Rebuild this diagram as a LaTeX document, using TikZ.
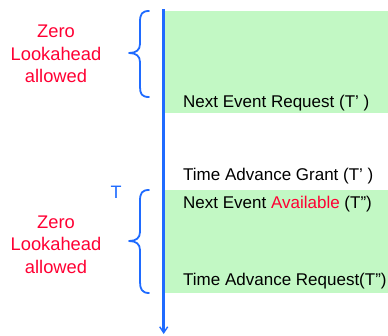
\documentclass[tikz,border=0pt]{standalone}
\usepackage{fontspec}
\setmainfont{Liberation Sans}
\usetikzlibrary{arrows.meta}
\definecolor{tlblue}{HTML}{1F6BFF}
\definecolor{zgreen}{HTML}{C2F8C4}
\definecolor{zred}{HTML}{FF0033}
\tikzset{
  lbl/.style={anchor=base west, inner sep=0pt, font=\fontsize{17}{20}\selectfont},
  zla/.style={align=center, text=zred, inner sep=0pt, font=\fontsize{18.3}{22.5}\selectfont},
  brc/.style={draw=tlblue, line width=1.8pt, line cap=round, line join=round},
}
\begin{document}
\begin{tikzpicture}[x=1pt,y=-1pt]
\useasboundingbox (0,0) rectangle (388,335);
% green zones
\fill[zgreen] (165,11) rectangle (388,113);
\fill[zgreen] (165,190) rectangle (388,293);
% timeline
\coordinate (tlstart) at (163.7,9);
\coordinate (tlend) at (163.7,334);
\draw[tlblue, line width=2.6pt, -{Straight Barb[length=6pt,width=8pt,line width=1.4pt]}] (tlstart) -- (tlend);
% braces
\draw[brc] (149,11) .. controls (142,11) and (140,14) .. (140,22) -- (140,44)
  .. controls (140,50) and (136,53) .. (129,53)
  .. controls (136,53) and (140,56) .. (140,62) -- (140,87)
  .. controls (140,94) and (142,97) .. (149,97);
\draw[brc] (149,190) .. controls (142,190) and (140,193) .. (140,201) -- (140,232)
  .. controls (140,238) and (136,241) .. (129,241)
  .. controls (136,241) and (140,244) .. (140,250) -- (140,282)
  .. controls (140,289) and (142,293) .. (149,293);
% left labels
\node[zla] (z1) at (56,54) {Zero\\Lookahead\\allowed};
\node[zla] (z2) at (56,244.5) {Zero\\Lookahead\\allowed};
\node[text=tlblue, inner sep=0pt, font=\fontsize{18}{20}\selectfont] (tt) at (116,192.5) {T};
% right labels
\node[lbl] (ner) at (183,107.5) {Next Event Request (T’ )};
\node[lbl] (tag) at (183,180.5) {Time Advance Grant (T’ )};
\node[lbl] (nea) at (183,208) {Next Event \textcolor{zred}{Available} (T”)};
\node[lbl] (tar) at (183,285.5) {Time Advance Request(T”)};
\end{tikzpicture}
\end{document}
